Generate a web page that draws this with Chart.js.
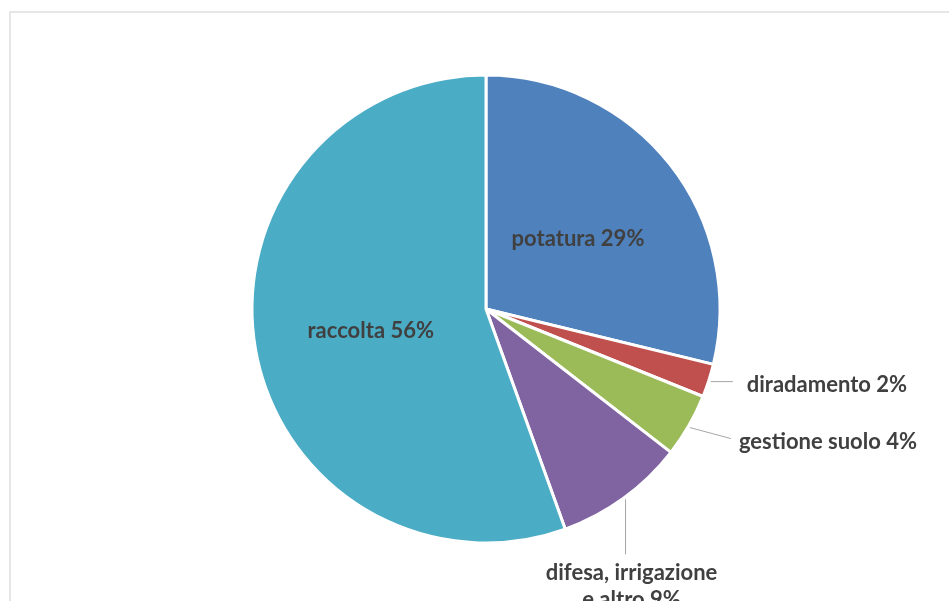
<!DOCTYPE html>
<html>
<head>
<meta charset="utf-8">
<script src="https://cdn.jsdelivr.net/npm/chart.js@4"></script>
<style>
  html, body { margin: 0; padding: 0; background: #fff; overflow: hidden; }
  #frame { position: absolute; left: 9px; top: 11px; width: 1000px; height: 700px;
           border-left: 2px solid #e6e6e6; border-top: 2px solid #e6e6e6; box-sizing: border-box; }
  #wrap { position: absolute; left: 0; top: 0; width: 949px; height: 601px; }
</style>
</head>
<body>
<div id="frame"></div>
<div id="wrap"><canvas id="c" width="949" height="601"></canvas></div>
<script>
const categories = ['potatura', 'diradamento', 'gestione suolo', 'difesa, irrigazione e altro', 'raccolta'];
const values = [28.8, 2.3, 4.4, 9.0, 55.5];
const colors = ['#4F81BD', '#C0504D', '#9BBB59', '#8064A2', '#4BACC6'];

const FONT = 'bold 22px Lato, "Open Sans", sans-serif';
const TEXT_COLOR = '#404040';

// label placement styles: 'in' = inside slice; others = outside with leader line
const labelStyle = [
  { mode: 'in' },
  { mode: 'out', line: [[2, 1], [24, 1]], text: [38, 4], align: 'left', lines: null },
  { mode: 'out', line: [[1, 2], [42, 13]], text: [50, 16], align: 'left', lines: null },
  { mode: 'out', line: [[2, 1], [2, 56]], text: [8, 75], align: 'center', lines: ['difesa, irrigazione', 'e altro'] },
  { mode: 'in' }
];

const labelPlugin = {
  id: 'sliceLabels',
  afterDatasetsDraw(chart) {
    const ctx = chart.ctx;
    const meta = chart.getDatasetMeta(0);
    const ds = chart.data.datasets[0];
    ctx.save();
    ctx.font = FONT;
    ctx.fillStyle = TEXT_COLOR;
    meta.data.forEach((arc, i) => {
      const pct = Math.round(ds.data[i]) + '%';
      const st = labelStyle[i];
      const p = arc.getProps(['x', 'y', 'startAngle', 'endAngle', 'outerRadius'], true);
      const mid = (p.startAngle + p.endAngle) / 2;
      if (st.mode === 'in') {
        const pos = arc.tooltipPosition(true);
        ctx.textAlign = 'center';
        ctx.textBaseline = 'middle';
        ctx.fillText(chart.data.labels[i] + ' ' + pct, pos.x, pos.y + 2);
        return;
      }
      const ex = p.x + Math.cos(mid) * p.outerRadius;
      const ey = p.y + Math.sin(mid) * p.outerRadius;
      ctx.strokeStyle = '#a6a6a6';
      ctx.lineWidth = 1;
      ctx.beginPath();
      ctx.moveTo(ex + st.line[0][0], ey + st.line[0][1]);
      ctx.lineTo(ex + st.line[1][0], ey + st.line[1][1]);
      ctx.stroke();
      ctx.textAlign = st.align;
      ctx.textBaseline = 'middle';
      const lines = st.lines ? st.lines.slice() : [chart.data.labels[i]];
      lines[lines.length - 1] += ' ' + pct;
      lines.forEach((t, k) => {
        ctx.fillText(t, ex + st.text[0], ey + st.text[1] + k * 27);
      });
    });
    ctx.restore();
  }
};

new Chart(document.getElementById('c'), {
  type: 'pie',
  data: {
    labels: categories,
    datasets: [{
      data: values,
      backgroundColor: colors,
      borderColor: '#ffffff',
      borderWidth: 3
    }]
  },
  options: {
    responsive: false,
    animation: false,
    radius: 234,
    layout: { padding: { top: 77, bottom: 60, left: 254, right: 231 } },
    plugins: {
      legend: { display: false },
      tooltip: { enabled: false }
    }
  },
  plugins: [labelPlugin]
});
</script>
</body>
</html>
